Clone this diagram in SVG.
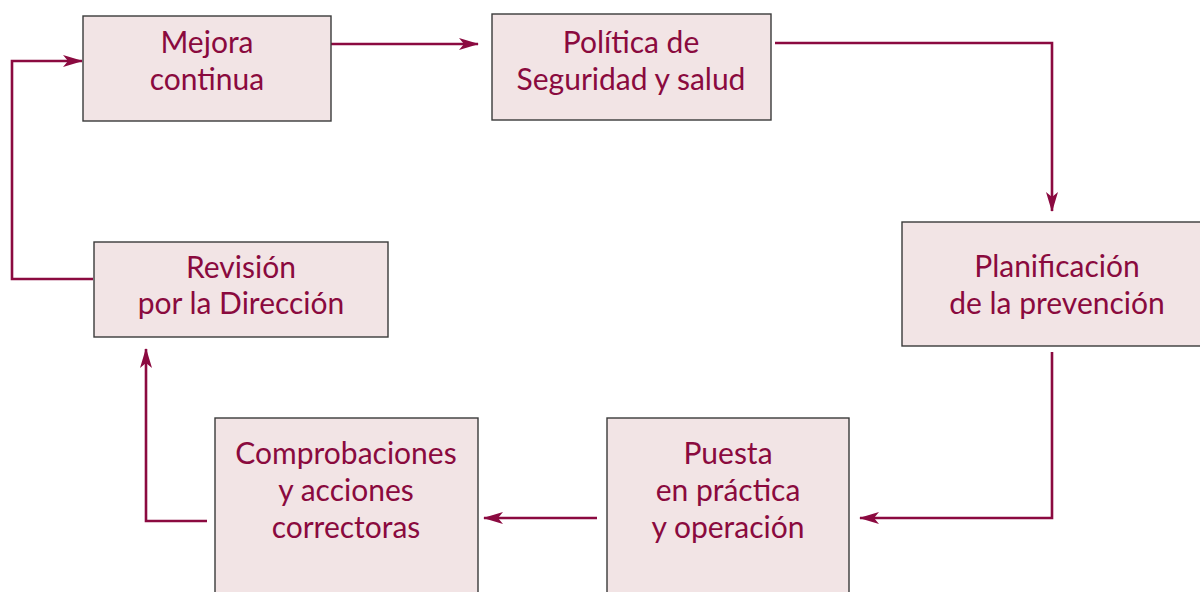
<svg xmlns="http://www.w3.org/2000/svg" width="1200" height="592" viewBox="0 0 1200 592">
<style>
.box{fill:#f2e4e5;stroke:#3a3a3a;stroke-width:1.4}
.t{font-family:Lato,"Open Sans",sans-serif;font-size:30px;fill:#8a0a3e;text-anchor:middle}
.c{fill:none;stroke:#8b0a40;stroke-width:2.6}
</style>
<defs>
<marker id="ah" viewBox="0 0 20 12" refX="19" refY="6" markerWidth="20" markerHeight="12" markerUnits="userSpaceOnUse" orient="auto">
<path d="M0,0 L20,6 L0,12 L5,6 Z" fill="#8b0a40"/>
</marker>
</defs>
<rect width="1200" height="592" fill="#fff"/>
<g id="connectors">
<path class="c" d="M331,44 H478" marker-end="url(#ah)"/>
<path class="c" d="M775,43 H1052 V211" marker-end="url(#ah)"/>
<path class="c" d="M1052,352 V518 H860" marker-end="url(#ah)"/>
<path class="c" d="M597,518 H484" marker-end="url(#ah)"/>
<path class="c" d="M207,521 H146 V349" marker-end="url(#ah)"/>
<path class="c" d="M93,279 H12 V61 H82" marker-end="url(#ah)"/>
</g>
<g id="mejora">
<rect class="box" x="83" y="16" width="248" height="105"/>
<text class="t" x="207" y="53">Mejora</text>
<text class="t" x="207" y="90">continua</text>
</g>
<g id="politica">
<rect class="box" x="492" y="14" width="279" height="106"/>
<text class="t" x="631" y="53">Política de</text>
<text class="t" x="631" y="90">Seguridad y salud</text>
</g>
<g id="planificacion">
<rect class="box" x="902" y="222" width="310" height="124"/>
<text class="t" x="1057" y="277">Planificación</text>
<text class="t" x="1057" y="314">de la prevención</text>
</g>
<g id="revision">
<rect class="box" x="94" y="242" width="294" height="95"/>
<text class="t" x="241" y="278">Revisión</text>
<text class="t" x="241" y="314">por la Dirección</text>
</g>
<g id="comprobaciones">
<rect class="box" x="215" y="418" width="263" height="190"/>
<text class="t" x="346" y="464">Comprobaciones</text>
<text class="t" x="346" y="501">y acciones</text>
<text class="t" x="346" y="538">correctoras</text>
</g>
<g id="puesta">
<rect class="box" x="607" y="418" width="242" height="190"/>
<text class="t" x="728" y="464">Puesta</text>
<text class="t" x="728" y="501">en práctica</text>
<text class="t" x="728" y="538">y operación</text>
</g>
</svg>
